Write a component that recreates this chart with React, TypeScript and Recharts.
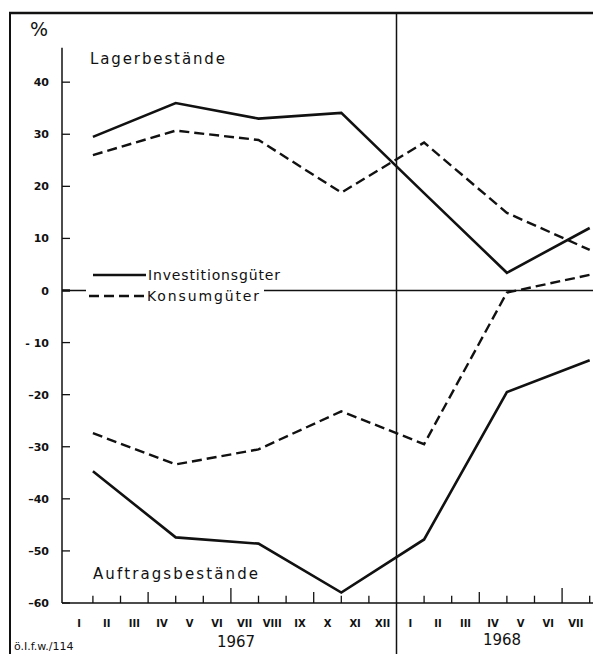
import { Line, LineChart, ReferenceLine, XAxis, YAxis } from 'recharts';

// survey points: month index counted from start of Jan 1967 (end of Jan, Apr, Jul, Oct ...)
const surveyMonths = [1, 4, 7, 10, 13, 16, 19];
const lagerInvestition = [29.5, 36.0, 33.0, 34.1, 18.7, 3.4, 12.0];
const lagerKonsum = [26.0, 30.7, 28.9, 18.8, 28.4, 14.9, 7.8];
const auftragInvestition = [-34.7, -47.4, -48.6, -58.0, -47.8, -19.5, -13.4];
const auftragKonsum = [-27.4, -33.4, -30.5, -23.2, -29.5, -0.4, 3.0];

const yTicks = [40, 30, 20, 10, 0, -10, -20, -30, -40, -50, -60];
const yTickLabels = ['40', '30', '20', '10', '0', '- 10', '–20', '–30', '–40', '–50', '–60'];
const monthLabels = [
  'I', 'II', 'III', 'IV', 'V', 'VI', 'VII', 'VIII', 'IX', 'X', 'XI', 'XII',
  'I', 'II', 'III', 'IV', 'V', 'VI', 'VII',
];
const yearBreak = 12;

const data = surveyMonths.map((m, i) => ({
  m,
  lagerInv: lagerInvestition[i],
  lagerKon: lagerKonsum[i],
  auftragInv: auftragInvestition[i],
  auftragKon: auftragKonsum[i],
}));

const monthMids = monthLabels.map((_, i) => i + 0.5);
const monthBounds = monthLabels.map((_, i) => i + 1).filter((m) => m !== yearBreak);

const W = 593;
const H = 654;
const FONT = '"DejaVu Sans", sans-serif';
const DASH = '10 5';

function YTick({ x, y, payload }: any) {
  const idx = yTicks.indexOf(payload.value);
  return (
    <g>
      <text x={x - 13} y={y + 4} textAnchor="end" fontSize={11} fontWeight="bold" fontFamily={FONT} fill="#111">
        {yTickLabels[idx]}
      </text>
      <line x1={x} x2={x + 8} y1={y} y2={y} stroke="#111" strokeWidth={payload.value === 0 ? 2.5 : 1.3} />
    </g>
  );
}

function XTick({ x, y, payload }: any) {
  const label = monthLabels[Math.floor(payload.value)];
  return (
    <text x={x} y={y + 24} textAnchor="middle" fontSize={10} fontWeight="bold" fontFamily={FONT} fill="#111">
      {label}
    </text>
  );
}

function tickLen(m: number) {
  if (m % 6 === 0) return 2.9;
  if (m % 3 === 0) return 2.1;
  return 1.4;
}

export default function App() {
  return (
    <div style={{ position: 'absolute', left: 0, top: 0, width: W, height: H, overflow: 'hidden', background: '#fff' }}>
      <LineChart width={W} height={H} data={data} margin={{ top: 13, right: 0, bottom: 0, left: 2 }}>
        <XAxis
          dataKey="m"
          type="number"
          domain={[-0.12, 19.12]}
          allowDataOverflow
          ticks={monthMids}
          interval={0}
          tickLine={false}
          tickSize={0}
          tickMargin={0}
          height={51}
          axisLine={{ stroke: '#111', strokeWidth: 1.6 }}
          tick={<XTick />}
        />
        <YAxis
          type="number"
          domain={[-60, 53.28]}
          allowDataOverflow
          ticks={yTicks}
          interval={0}
          width={60}
          axisLine={false}
          tickLine={false}
          tickSize={0}
          tickMargin={0}
          tick={<YTick />}
        />
        <ReferenceLine
          segment={[
            { x: -0.12, y: -60 },
            { x: -0.12, y: 46.6 },
          ]}
          stroke="#111"
          strokeWidth={1.5}
        />
        <ReferenceLine y={0} stroke="#111" strokeWidth={1.7} />
        <ReferenceLine
          x={yearBreak}
          stroke="#111"
          strokeWidth={1.5}
          shape={(p: any) => (
            <line
              x1={p.x1}
              x2={p.x2}
              y1={Math.min(p.y1, p.y2)}
              y2={Math.max(p.y1, p.y2) + 51}
              stroke="#111"
              strokeWidth={1.5}
            />
          )}
        />
        {monthBounds.map((m) => (
          <ReferenceLine
            key={m}
            segment={[
              { x: m, y: -60 },
              { x: m, y: -60 + tickLen(m) },
            ]}
            stroke="#111"
            strokeWidth={1.3}
          />
        ))}
        <Line type="linear" dataKey="lagerInv" stroke="#111" strokeWidth={2.6} dot={false} isAnimationActive={false} />
        <Line type="linear" dataKey="lagerKon" stroke="#111" strokeWidth={2.4} strokeDasharray={DASH} dot={false} isAnimationActive={false} />
        <Line type="linear" dataKey="auftragInv" stroke="#111" strokeWidth={2.6} dot={false} isAnimationActive={false} />
        <Line type="linear" dataKey="auftragKon" stroke="#111" strokeWidth={2.4} strokeDasharray={DASH} dot={false} isAnimationActive={false} />
      </LineChart>

      <svg width={W} height={H} style={{ position: 'absolute', left: 0, top: 0, pointerEvents: 'none' }}>
        {/* frame */}
        <line x1={10} x2={10} y1={12} y2={H} stroke="#111" strokeWidth={2} />
        <line x1={9} x2={W} y1={13} y2={13} stroke="#111" strokeWidth={2.5} />

        <text x={30} y={36} fontSize={19} fontFamily={FONT} fill="#111">%</text>
        <text x={90} y={64} fontSize={15} fontFamily={FONT} fill="#111" textLength={135} lengthAdjust="spacing">
          Lagerbestände
        </text>
        <text x={93} y={579} fontSize={15} fontFamily={FONT} fill="#111" textLength={165} lengthAdjust="spacing">
          Auftragsbestände
        </text>

        {/* legend */}
        <rect x={86} y={282} width={178} height={22} fill="#fff" />
        <line x1={93} x2={146} y1={275} y2={275} stroke="#111" strokeWidth={2.6} />
        <text x={148} y={280} fontSize={14} fontFamily={FONT} fill="#111" textLength={132} lengthAdjust="spacing">
          Investitionsgüter
        </text>
        <line x1={89} x2={146} y1={296} y2={296} stroke="#111" strokeWidth={2.4} strokeDasharray={DASH} />
        <text x={147} y={301} fontSize={14} fontFamily={FONT} fill="#111" textLength={112} lengthAdjust="spacing">
          Konsumgüter
        </text>

        <text x={236} y={647} textAnchor="middle" fontSize={15} fontFamily={FONT} fill="#111">1967</text>
        <text x={502} y={645} textAnchor="middle" fontSize={15} fontFamily={FONT} fill="#111">1968</text>
        <text x={14} y={650} fontSize={11} fontFamily={FONT} fill="#111">ö.I.f.w./114</text>
      </svg>
    </div>
  );
}
